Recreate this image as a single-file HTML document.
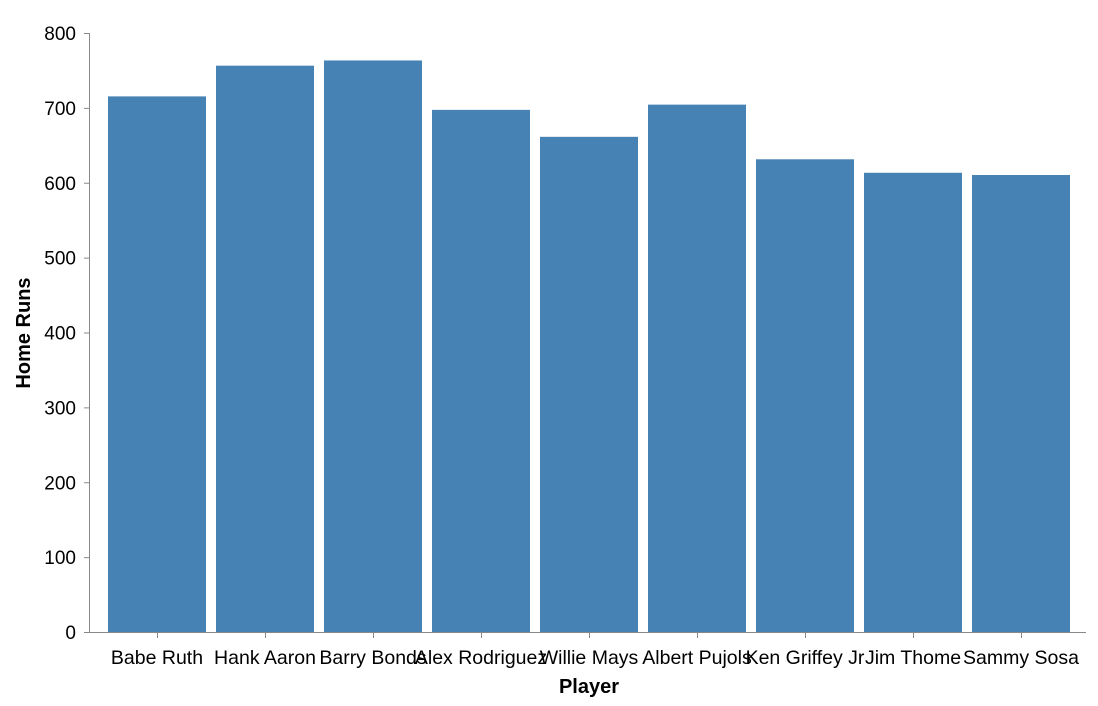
<!DOCTYPE html>
<html><head><meta charset="utf-8"><style>
body{margin:0;background:#fff;}
svg{display:block;font-family:"Liberation Sans",Arial,sans-serif;}
</style></head><body>
<svg id="chart" width="1098" height="706">
<g id="bars"></g>
<g id="yaxis"></g>
<g id="xaxis"></g>
<text x="30" y="333" transform="rotate(-90 30 333)" text-anchor="middle" font-size="20" font-weight="bold" fill="#000">Home Runs</text>
<text x="589" y="693" text-anchor="middle" font-size="20" font-weight="bold" fill="#000">Player</text>
</svg>
<script>
const categories=["Babe Ruth","Hank Aaron","Barry Bonds","Alex Rodriguez","Willie Mays","Albert Pujols","Ken Griffey Jr","Jim Thome","Sammy Sosa"];
const homeRuns=[714,755,762,696,660,703,630,612,609];
const yTicks=[0,100,200,300,400,500,600,700,800];
const NS="http://www.w3.org/2000/svg";
const y0=632,yTop=33,yMax=800,axisX=89,xStart=108,step=108,bw=98,xEnd=1086;
const y=v=>y0-(v/yMax)*(y0-yTop);
const x=i=>xStart+i*step;
function mk(tag,attrs,parent){const e=document.createElementNS(NS,tag);for(const k in attrs)e.setAttribute(k,attrs[k]);parent.appendChild(e);return e;}
const bars=document.getElementById('bars'),ya=document.getElementById('yaxis'),xa=document.getElementById('xaxis');
homeRuns.forEach((v,i)=>{
  const r=mk('rect',{x:x(i),y:y(v)-1,width:bw,height:y0-y(v)+1,fill:'#4682b4'},bars);
  
  
});
const yl=mk('line',{x1:axisX+0.5,x2:axisX+0.5,y1:yTop,y2:y0,stroke:'#888'},ya);


yTicks.forEach(t=>{
  const tk=mk('line',{x1:axisX-5,x2:axisX,y1:y(t)+0.5,y2:y(t)+0.5,stroke:'#888'},ya);
  
  
  const tx=mk('text',{x:axisX-13,y:y(t)+7,'text-anchor':'end','font-size':19,fill:'#000'},ya);
  tx.textContent=t;
  
  
});
const xl=mk('line',{x1:axisX,x2:xEnd,y1:y0+0.5,y2:y0+0.5,stroke:'#888'},xa);


categories.forEach((c,i)=>{
  const cx=x(i)+bw/2;
  const tk=mk('line',{x1:cx+0.5,x2:cx+0.5,y1:y0,y2:y0+6,stroke:'#888'},xa);
  
  
  const tx=mk('text',{x:cx,y:y0+32,'text-anchor':'middle','font-size':19.5,fill:'#000'},xa);
  tx.textContent=c;
  
  
});
</script>
</body></html>
